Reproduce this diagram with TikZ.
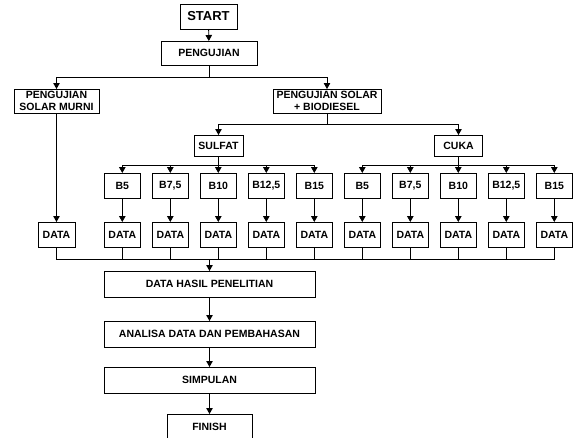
\documentclass[tikz,border=0pt]{standalone}
\usepackage{fontspec}
\setmainfont{Liberation Sans}
\usetikzlibrary{arrows.meta,positioning}

\begin{document}
\begin{tikzpicture}[x=1pt, y=-1pt, line width=0.9pt, font=\bfseries\fontsize{10.5}{12.5}\selectfont,
  box/.style={draw, inner sep=0pt, outer sep=0pt, minimum height=25pt, align=center},
  small/.style={draw, inner sep=0pt, outer sep=0pt, minimum width=36pt, minimum height=25pt},
  arr/.style={-{Triangle[length=6pt,width=6.5pt]}}]
\useasboundingbox (0,0) rectangle (573,437);
\clip (0,0) rectangle (573,437);
\node[box, minimum width=57pt, font=\bfseries\fontsize{13}{15}\selectfont] (start) at (208.5,16.5) {START};
\node[box, minimum width=96pt, minimum height=24pt] (uji) at (209,53) {PENGUJIAN};
\node[box, minimum width=85pt, minimum height=24pt] (murni) at (56.5,101) {PENGUJIAN\\SOLAR MURNI};
\node[box, minimum width=108pt, minimum height=24pt] (campur) at (327,101) {PENGUJIAN SOLAR\\+ BIODIESEL};
\node[box, minimum width=49pt, minimum height=21pt] (sulfat) at (218.5,145.5) {SULFAT};
\node[box, minimum width=48pt, minimum height=21pt] (cuka) at (458.5,145.5) {CUKA};
% variasi campuran, sulfat lalu cuka
\node[small] (sb1) at (122.3,185.5) {B5};
\node[small, right=12pt of sb1] (sb2) {B7,5};
\node[small, right=12pt of sb2] (sb3) {B10};
\node[small, right=12pt of sb3] (sb4) {B12,5};
\node[small, right=12pt of sb4] (sb5) {B15};
\node[small, right=12pt of sb5] (cb1) {B5};
\node[small, right=12pt of cb1] (cb2) {B7,5};
\node[small, right=12pt of cb2] (cb3) {B10};
\node[small, right=12pt of cb3] (cb4) {B12,5};
\node[small, right=12pt of cb4] (cb5) {B15};
\node[small, below=24pt of sb1] (sd1) {DATA};
\node[small, minimum width=37pt] (md) at (murni.south |- sd1) {DATA};
\node[box, minimum width=211pt, minimum height=26pt] (hasil) at (209.5,284) {DATA HASIL PENELITIAN};
\node[box, minimum width=211pt, minimum height=26pt, below=24pt of hasil] (analisa) {ANALISA DATA DAN PEMBAHASAN};
\node[box, minimum width=211pt, minimum height=26pt, below=20pt of analisa] (simpul) {SIMPULAN};
\node[box, minimum width=85pt, minimum height=26pt, below=21pt of simpul] (finish) {FINISH};
\coordinate (gabung) at (209.5,259);

\draw[arr] (start) -- (uji);
\draw[arr] (uji.south) -- ++(0,12) -| (murni.north);
\draw[arr] (uji.south) -- ++(0,12) -| (campur.north);
\draw[arr] (campur.south) -- ++(0,11) -| (sulfat.north);
\draw[arr] (campur.south) -- ++(0,11) -| (cuka.north);
\draw[arr] (murni) -- (md);
\draw (md.south) |- (gabung);
\foreach \i in {1,...,5} {
  \draw[arr] (sulfat.south) -- ++(0,9) -| (sb\i.north);
  \draw[arr] (cuka.south) -- ++(0,9) -| (cb\i.north);
}
\foreach \b in {sb2,sb3,sb4,sb5,cb1,cb2,cb3,cb4,cb5} {
  \node[small, below=24pt of \b] (\b-d) {DATA};
}
\draw[arr] (sb1) -- (sd1);
\draw (sd1.south) |- (gabung);
\foreach \b in {sb2,sb3,sb4,sb5,cb1,cb2,cb3,cb4,cb5} {
  \draw[arr] (\b) -- (\b-d);
  \draw (\b-d.south) |- (gabung);
}
\draw[arr] (gabung) -- (hasil);
\draw[arr] (hasil) -- (analisa);
\draw[arr] (analisa) -- (simpul);
\draw[arr] (simpul) -- (finish);
\end{tikzpicture}
\end{document}
